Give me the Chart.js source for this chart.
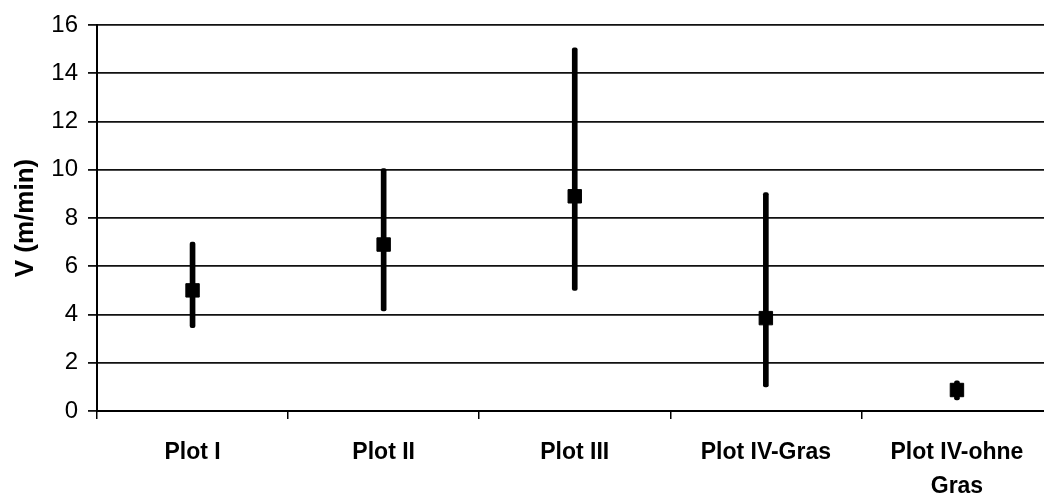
<!DOCTYPE html>
<html>
<head>
<meta charset="utf-8">
<script src="https://cdn.jsdelivr.net/npm/chart.js@4"></script>
<style>
  html, body { margin: 0; padding: 0; background: #fff; overflow: hidden; }
  #wrap { position: relative; width: 1063px; height: 500px; }
</style>
</head>
<body>
<div id="wrap"><canvas id="myChart"></canvas></div>
<script>
// plot names and velocity values (m/min)
const categories = ['Plot I', 'Plot II', 'Plot III', 'Plot IV-Gras', ['Plot IV-ohne', 'Gras']];
const meanV = [5.0, 6.9, 8.9, 3.85, 0.87];
const minV = [3.45, 4.15, 5.0, 1.0, 0.46];
const maxV = [7.0, 10.05, 15.05, 9.05, 1.25];
const yTicks = [0, 2, 4, 6, 8, 10, 12, 14, 16];

const ctx = document.getElementById('myChart');

new Chart(ctx, {
  data: {
    labels: categories,
    datasets: [{
      type: 'line',
      label: 'Mittelwert',
      data: meanV,
      showLine: false,
      pointStyle: 'rect',
      pointRadius: 9.5,
      pointBackgroundColor: '#000',
      pointBorderColor: '#000',
      pointBorderWidth: 1,
      order: 0
    }, {
      type: 'bar',
      label: 'Bereich',
      data: minV.map((v, i) => [v, maxV[i]]),
      backgroundColor: '#000',
      borderRadius: 2,
      borderSkipped: false,
      barThickness: 5,
      order: 1
    }]
  },
  options: {
    responsive: true,
    maintainAspectRatio: false,
    animation: false,
    layout: { padding: { top: 25, right: 2, left: 0, bottom: 0 } },
    plugins: {
      legend: { display: false },
      tooltip: { enabled: false }
    },
    scales: {
      x: {
        type: 'category',
        offset: true,
        grid: {
          offset: true,
          drawOnChartArea: false,
          drawTicks: true,
          tickLength: 8,
          color: '#000',
          lineWidth: 1.5
        },
        border: { color: '#000', width: 2 },
        ticks: {
          color: '#000',
          font: { family: 'Liberation Sans, Arial, sans-serif', size: 23, weight: 'bold', lineHeight: 1.5 },
          padding: 16,
          maxRotation: 0,
          autoSkip: false
        },
        afterFit: s => { s.height = 89; }
      },
      y: {
        min: 0,
        max: 16,
        afterBuildTicks: s => { s.ticks = yTicks.map(v => ({ value: v })); },
        grid: {
          color: '#111',
          lineWidth: 1.8,
          drawTicks: true,
          tickLength: 9
        },
        border: { color: '#000', width: 2 },
        ticks: {
          color: '#000',
          font: { family: 'Liberation Sans, Arial, sans-serif', size: 24 },
          padding: 10
        },
        title: {
          display: true,
          text: 'V (m/min)',
          color: '#000',
          font: { family: 'Liberation Sans, Arial, sans-serif', size: 26, weight: 'bold' },
          padding: { top: 10, bottom: 0 }
        },
        afterFit: s => { s.width = 97; }
      }
    }
  }
});
</script>
</body>
</html>
